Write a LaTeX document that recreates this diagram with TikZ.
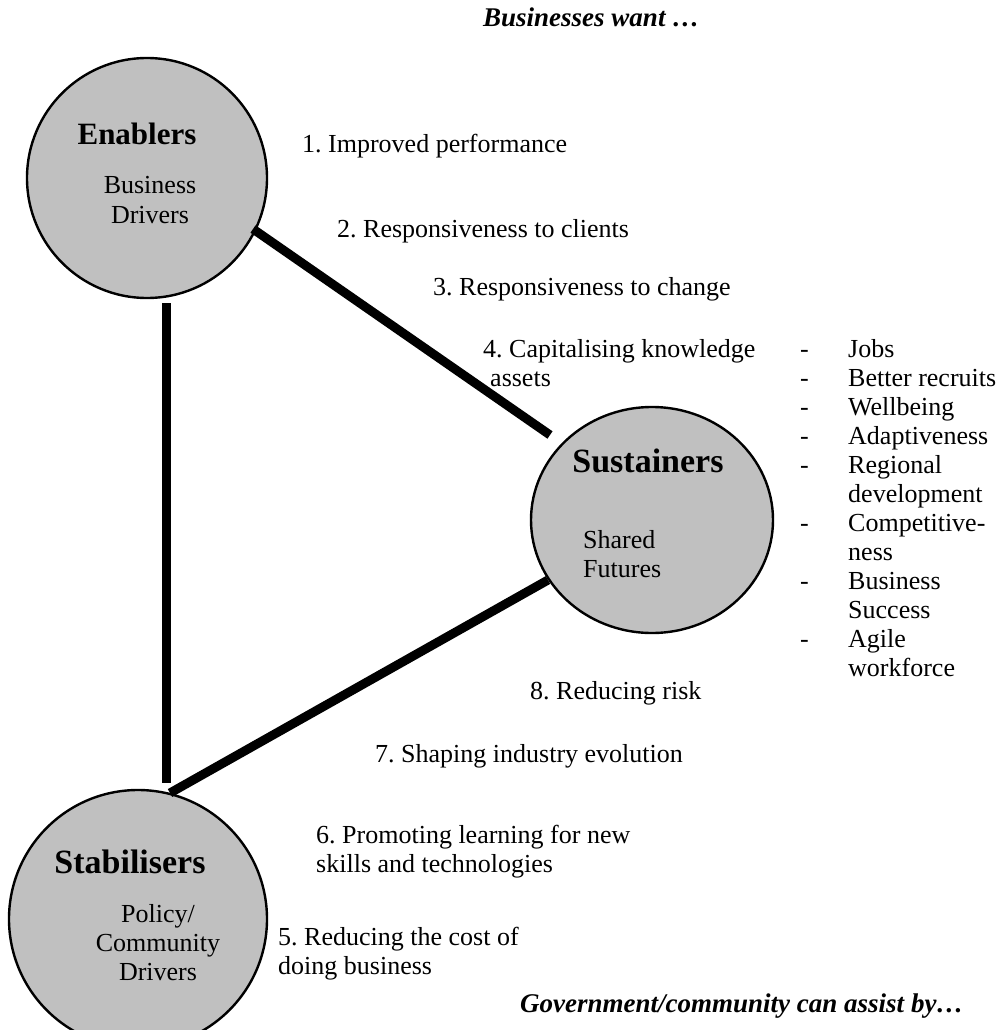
\documentclass[tikz,border=0pt]{standalone}
\usepackage{fontspec}
\setmainfont{Liberation Serif}
\usetikzlibrary{shapes.geometric}
\frenchspacing
\begin{document}
\begin{tikzpicture}[x=1pt,y=-1pt,
  hub/.style={ellipse,draw=black,line width=2.4pt,fill=hubgray,inner sep=0,minimum width=#1},
  link/.style={line width=9pt,line cap=butt},
  txt/.style={inner sep=0,anchor=base west,font=\fontsize{26}{29}\selectfont},
  ctr/.style={inner sep=0,anchor=base,font=\fontsize{26}{29}\selectfont},
  head/.style={inner sep=0,anchor=base,font=\fontsize{#1}{#1}\selectfont\bfseries},
  note/.style={inner sep=0,anchor=base west,font=\fontsize{27}{29}\selectfont\bfseries\itshape}]
\definecolor{hubgray}{HTML}{C0C0C0}
\useasboundingbox (0,0) rectangle (1003,1030);
\clip (0,0) rectangle (1003,1030);
\fill[white] (0,0) rectangle (1003,1030);

% circles
\node[hub=240pt,minimum height=240pt] (en) at (147,178) {};
\node[hub=242pt,minimum height=226pt] (su) at (652,520) {};
\node[hub=258pt,minimum height=258pt] (st) at (138,919) {};

% connector ends
\coordinate (enS) at (253,229);
\coordinate (suN) at (550,435);
\coordinate (enB) at (166,303);
\coordinate (stT) at (166,783);
\coordinate (stR) at (170,793);
\coordinate (suW) at (548,580);
\draw[link] (enS) -- (suN);
\draw[link] (enB) -- (stT);
\draw[link] (stR) -- (suW);

% circle labels
\node[head=31] (enT) at (137,145) {Enablers};
\node[ctr] (en1) at (150,193) {Business};
\node[ctr] (en2) at (150,223) {Drivers};
\node[head=34] (suT) at (648,472) {Sustainers};
\node[txt] (su1) at (583,548) {Shared};
\node[txt] (su2) at (583,577) {Futures};
\node[head=34] (stTt) at (130,873) {Stabilisers};
\node[ctr] (st1) at (158,922) {Policy/};
\node[ctr] (st2) at (158,951) {Community};
\node[ctr] (st3) at (158,980) {Drivers};

% headings
\node[note] (bw) at (483,27) {Businesses want …};
\node[note] (gc) at (520,1012) {Government/community can assist by…};

% business wants
\node[txt] (b1) at (302,153) {1. Improved performance};
\node[txt] (b2) at (337,237) {2. Responsiveness to clients};
\node[txt] (b3) at (433,295) {3. Responsiveness to change};
\node[txt] (b4a) at (483,357) {4. Capitalising knowledge};
\node[txt] (b4b) at (490,386) {assets};

% government assists
\node[txt] (g8) at (530,699) {8. Reducing risk};
\node[txt] (g7) at (375,762) {7. Shaping industry evolution};
\node[txt] (g6a) at (316,843) {6. Promoting learning for new};
\node[txt] (g6b) at (316,872) {skills and technologies};
\node[txt] (g5a) at (278,945) {5. Reducing the cost of};
\node[txt] (g5b) at (278,974) {doing business};

% outcomes list
\foreach \y/\t/\d [count=\i] in {357/Jobs/1, 386/Better recruits/1, 415/Wellbeing/1, 444/Adaptiveness/1,
  473/Regional/1, 502/development/0, 531/Competitive-/1, 560/ness/0, 589/Business/1,
  618/Success/0, 647/Agile/1, 676/workforce/0}{
  \node[txt] (o\i) at (848,\y) {\t};
  \ifnum\d=1 \node[txt] (d\i) at (800,\y) {-};\fi
}
\end{tikzpicture}
\end{document}
